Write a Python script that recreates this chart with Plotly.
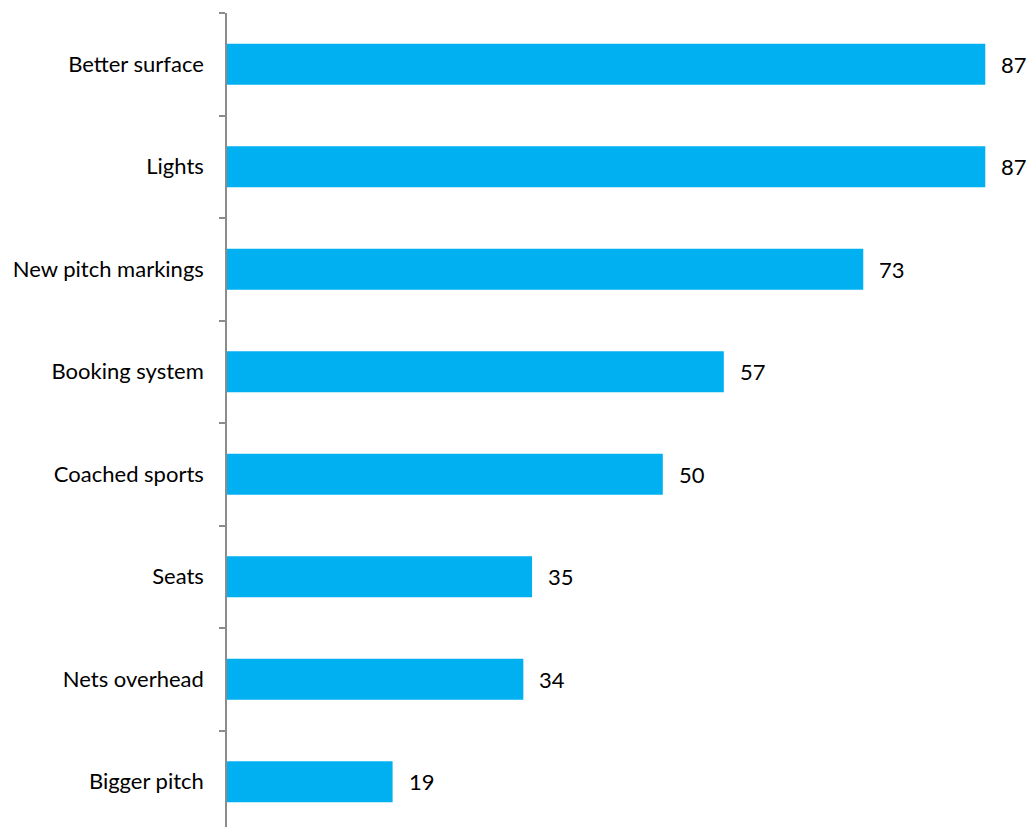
import plotly.graph_objects as go

categories = ["Better surface", "Lights", "New pitch markings", "Booking system",
              "Coached sports", "Seats", "Nets overhead", "Bigger pitch"]
values = [87, 87, 73, 57, 50, 35, 34, 19]

cats = categories[::-1]
vals = values[::-1]

FONT = "Lato"
fig = go.Figure()
fig.add_trace(go.Bar(
    x=vals, y=cats, orientation="h",
    marker=dict(color="#00B0F0", line=dict(width=0)),
    width=0.4,
))
for c, v in zip(cats, vals):
    fig.add_annotation(x=v, y=c, text=str(v), showarrow=False,
                       xanchor="left", xshift=14,
                       font=dict(family=FONT, size=22, color="#000000"))

fig.update_layout(
    width=1028, height=827,
    margin=dict(l=227, r=0, t=13, b=0),
    plot_bgcolor="white", paper_bgcolor="white",
    showlegend=False,
    font=dict(family=FONT, size=22, color="#000000"),
    xaxis=dict(range=[0, 91.9], visible=False, fixedrange=True),
    yaxis=dict(
        type="category", categoryorder="array", categoryarray=cats,
        range=[-0.441, 7.5],
        showline=True, linecolor="#8c8c8c", linewidth=1.5,
        ticks="outside", ticklen=6, tickcolor="#8c8c8c", tickwidth=1.5,
        tickson="boundaries", ticklabelstandoff=17,
        showgrid=False, zeroline=False,
        tickfont=dict(family=FONT, size=22, color="#000000"),
    ),
)
fig.write_html(
    "out.html",
    config={"displayModeBar": False},
    post_script="document.body.style.margin='0';document.body.style.overflow='hidden';",
)
